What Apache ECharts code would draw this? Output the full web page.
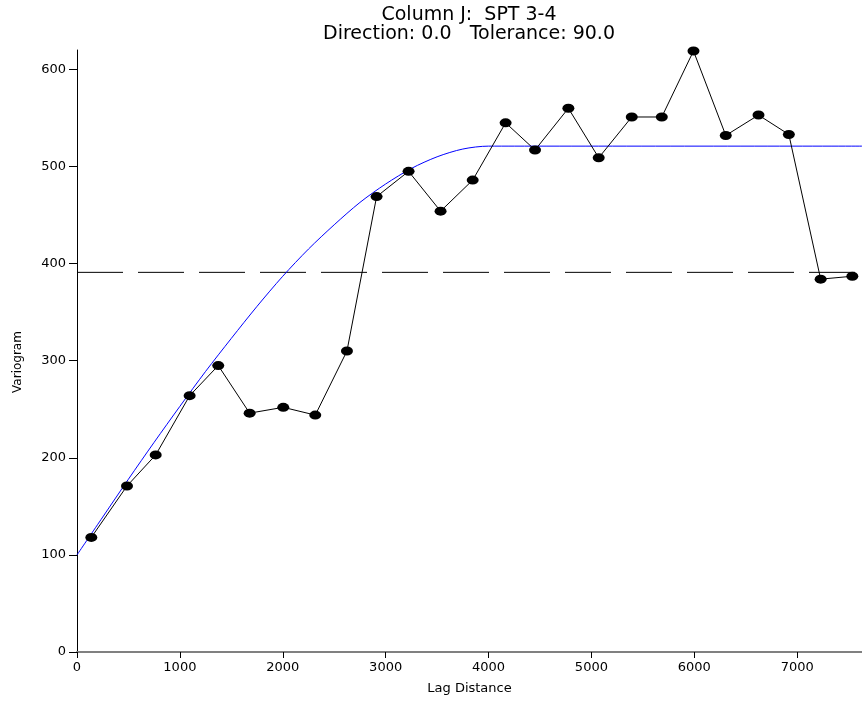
<!DOCTYPE html>
<html>
<head>
<meta charset="utf-8">
<script src="https://cdn.jsdelivr.net/npm/echarts@6/dist/echarts.min.js"></script>
<style>
  html, body { margin: 0; padding: 0; background: #fff; }
  #main { width: 862px; height: 709px; }
</style>
</head>
<body>
<div id="main"></div>
<script>
// experimental variogram (lag distance, variogram)
const lagDistance = [139, 486, 765, 1095, 1373, 1678, 2005, 2316, 2624, 2912, 3223, 3534, 3846,
  4166, 4452, 4776, 5071, 5392, 5684, 5992, 6306, 6624, 6919, 7228, 7536];
const variogram = [118, 171, 203, 264, 295, 246, 252, 244, 310, 469, 495, 454, 486,
  545, 517, 560, 509, 551, 551, 619, 532, 553, 533, 384, 387];

// fitted model curve
const modelLag = [0, 250, 500, 750, 1000, 1250, 1500, 1750, 2000, 2250, 2500, 2750, 3000,
  3250, 3500, 3750, 4000, 4250, 7630];
const modelValue = [100, 139, 178, 216, 253, 289, 323, 356, 387, 415, 440, 463, 482,
  498, 510, 518, 521, 521, 521];

// sample variance (dashed line)
const sillLag = [0, 7630];
const sillValue = [391, 391];

const xTicks = [0, 1000, 2000, 3000, 4000, 5000, 6000, 7000];
const yTicks = [0, 100, 200, 300, 400, 500, 600];

const font = '"DejaVu Sans", "Liberation Sans", Arial, sans-serif';
const chart = echarts.init(document.getElementById('main'), null, { renderer: 'canvas' });

const option = {
  animation: false,
  backgroundColor: '#fff',
  title: {
    text: 'Column J:  SPT 3-4\nDirection: 0.0   Tolerance: 90.0',
    left: 469,
    top: 6,
    padding: 0,
    textAlign: 'center',
    textStyle: { fontFamily: font, fontSize: 19, fontWeight: 'normal', color: '#000', lineHeight: 19 }
  },
  grid: { left: 77, right: 0, top: 50, bottom: 57, outerBoundsMode: 'none' },
  xAxis: {
    type: 'value',
    min: 0,
    max: 7630,
    name: 'Lag Distance',
    nameLocation: 'middle',
    nameGap: 30,
    nameTextStyle: { fontFamily: font, fontSize: 13, color: '#000' },
    axisLine: { onZero: false, lineStyle: { color: '#808080', width: 2 } },
    axisTick: { customValues: xTicks, length: 6, lineStyle: { color: '#000' } },
    axisLabel: {
      customValues: xTicks, margin: 9, fontFamily: font, fontSize: 13, color: '#000',
      formatter: v => String(v)
    },
    splitLine: { show: false }
  },
  yAxis: {
    type: 'value',
    min: 0,
    max: 620,
    name: 'Variogram',
    nameLocation: 'middle',
    nameGap: 53,
    nameRotate: 90,
    nameTextStyle: { fontFamily: font, fontSize: 12, color: '#000', padding: [0, 22, 0, 0] },
    axisLine: { show: true, lineStyle: { color: '#000', width: 1 } },
    axisTick: { customValues: yTicks, length: 8, lineStyle: { color: '#000' } },
    axisLabel: { customValues: yTicks, margin: 11, fontFamily: font, fontSize: 13, color: '#000' },
    splitLine: { show: false }
  },
  series: [
    {
      name: 'variance',
      type: 'line',
      data: sillLag.map((x, i) => [x, sillValue[i]]),
      showSymbol: false,
      lineStyle: { color: '#000', width: 1, type: [46, 15] },
      z: 1
    },
    {
      name: 'model',
      type: 'line',
      data: modelLag.map((x, i) => [x, modelValue[i]]),
      smooth: 0.3,
      showSymbol: false,
      lineStyle: { color: '#0000ff', width: 1 },
      z: 2
    },
    {
      name: 'experimental',
      type: 'line',
      data: lagDistance.map((x, i) => [x, variogram[i]]),
      symbol: 'circle',
      symbolSize: [12, 9],
      showSymbol: true,
      itemStyle: { color: '#000' },
      lineStyle: { color: '#000', width: 1 },
      z: 3
    }
  ]
};

chart.setOption(option);
</script>
</body>
</html>
